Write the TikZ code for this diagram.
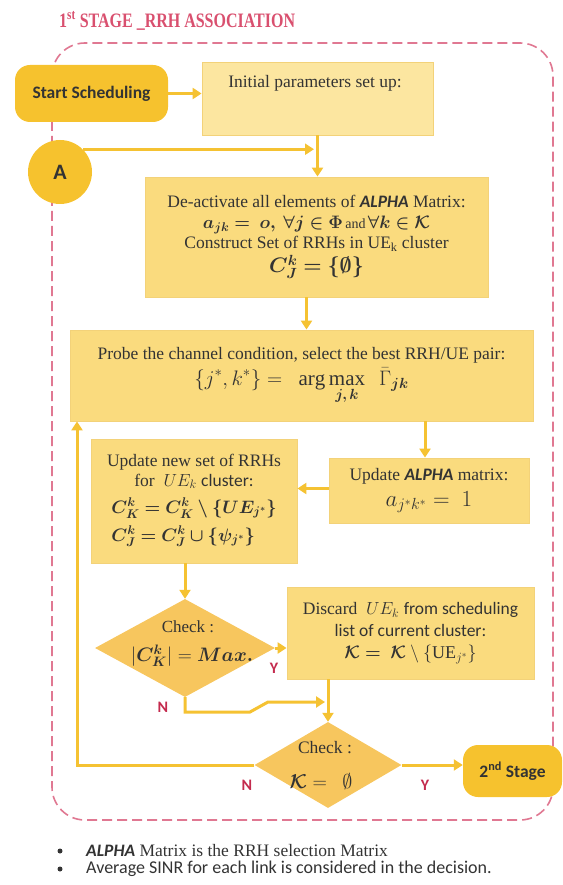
\RequirePackage{fix-cm}
\documentclass[tikz,border=0pt]{standalone}
\usepackage{amsmath,amssymb,bm}
\usepackage{fontspec}
\setmainfont{Liberation Serif}
\newfontfamily\calfont{Carlito}
\newfontfamily\titlefont[FakeStretch=0.78]{Liberation Serif}
\usetikzlibrary{shapes.geometric,arrows.meta}
\definecolor{gold}{HTML}{F5C232}
\definecolor{startfill}{HTML}{F6C22E}
\definecolor{lightbox}{HTML}{FCE6A0}
\definecolor{midbox}{HTML}{FADB7E}
\definecolor{diafill}{HTML}{F7C65E}
\definecolor{framecol}{HTML}{E07892}
\definecolor{titlecol}{HTML}{D9506F}
\definecolor{txt}{HTML}{333333}
\definecolor{yncol}{HTML}{C42B4E}
\definecolor{boxedge}{HTML}{F3D279}
\newcommand{\alphaw}{{\calfont\bfseries\itshape ALPHA}}
\begin{document}
\begin{tikzpicture}[x=1pt,y=-1pt,
  box/.style={draw=boxedge, line width=0.8pt, fill=midbox, inner sep=2pt, align=center, text=txt, font=\fontsize{17.5}{21}\selectfont},
  arr/.style={draw=gold, line width=3pt, -{Triangle[length=9pt,width=11pt]}},
  dia/.style={diamond, fill=diafill, draw=none, inner sep=0pt},
  lbl/.style={text=txt, inner sep=0pt, align=center, font=\fontsize{17.5}{21}\selectfont},
  ynl/.style={text=yncol, inner sep=0pt, font=\calfont\bfseries\fontsize{16}{16}\selectfont},
  term/.style={fill=startfill, rounded corners=15pt, inner sep=0pt, text=txt, font=\calfont\bfseries\fontsize{17.5}{17.5}\selectfont}]
\useasboundingbox (0,0) rectangle (562,885);
% title
\node[anchor=west, inner sep=0pt, text=titlecol, font=\titlefont\bfseries\fontsize{20.5}{20.5}\selectfont] (title) at (59,21) {1\textsuperscript{st} STAGE \_RRH ASSOCIATION};
% dashed frame
\draw[framecol, line width=1.6pt, dash pattern=on 10pt off 5pt, rounded corners=33pt] (52,43) rectangle (553,820);
% nodes
\node[term, minimum width=153pt, minimum height=57pt] (start) at (91.5,93.5) {Start Scheduling};
\node[box, fill=lightbox, minimum width=231pt, minimum height=73pt] (init) at (317.5,98.5) {};
\node[lbl] (initlbl) at (315,83) {Initial parameters set up:};
\node[circle, fill=startfill, minimum size=64pt, inner sep=0pt, text=txt, font=\calfont\bfseries\fontsize{22}{22}\selectfont] (A) at (60,172) {A};
\node[box, minimum width=343pt, minimum height=120pt] (deact) at (316.5,237) {De-activate all elements of \alphaw{} Matrix:\\[0pt]
 {\fontsize{18}{20}\selectfont$\bm{a_{jk} =\ o,\ \forall j \in \Phi}$}{\fontsize{14}{15}\selectfont\,and\,}{\fontsize{18}{20}\selectfont$\bm{\forall k \in \mathcal{K}}$}\\[-1pt]
 Construct Set of RRHs in UE$_{\mathrm{k}}$ cluster\\[3pt]
 {\fontsize{21}{22}\selectfont$\bm{C_J^k = \{\emptyset\}}$}};
\node[box, minimum width=463pt, minimum height=91pt] (probe) at (301.5,375.5) {Probe the channel condition, select the best RRH/UE pair:\\[5pt]
 {\fontsize{21}{22}\selectfont$\displaystyle \{j^{*}, k^{*}\} =\ \ \arg\max\limits_{\bm{j,\,k}}\ \ \bar{\Gamma}_{\bm{jk}}$}};
\node[box, minimum width=200pt, minimum height=65pt] (ualpha) at (429,490.5) {Update \alphaw{} matrix:\\[5pt]
 {\fontsize{23}{24}\selectfont$a_{j^{*}k^{*}} =\ 1$}};
\node[box, minimum width=206pt, minimum height=124pt] (unew) at (194,501) {Update new set of RRHs\\[-1pt]
 for \ $UE_k$ {\calfont cluster:}\\[7pt]
 {\fontsize{18}{23}\selectfont$\begin{array}{@{}l@{}}\bm{C_K^k = C_K^k \setminus \{UE_{j^*}\}}\\[5pt] \bm{C_J^k = C_J^k \cup \{\psi_{j^*}\}}\end{array}$}};
\node[dia, minimum width=180pt, minimum height=98pt] (dia1) at (185,648) {};
\node[lbl, font=\fontsize{17}{17}\selectfont] (dia1a) at (188,627) {Check :};
\node[lbl] (dia1b) at (192,656) {\fontsize{19.5}{19.5}\selectfont$|\bm{C_K^k}| = \bm{Max.}$};
\node[box, minimum width=247pt, minimum height=92pt] (discard) at (410.5,633) {Discard \ $UE_k$ {\calfont from scheduling}\\[1pt]
 {\calfont list of current cluster:}\\[1pt]
 {\fontsize{18}{20}\selectfont$\bm{\mathcal{K} =\ \mathcal{K}} \setminus \{\mathrm{UE}_{j^*}\}$}};
\node[dia, minimum width=147pt, minimum height=86pt] (dia2) at (328,765) {};
\node[lbl, font=\fontsize{17.5}{17.5}\selectfont] (dia2a) at (325,748) {Check :};
\node[lbl] (dia2b) at (321,782) {\fontsize{20}{20}\selectfont$\bm{\mathcal{K}} =\ \ \emptyset$};
\node[term, fill=startfill, minimum width=99pt, minimum height=52pt] (second) at (512.5,771) {2\textsuperscript{nd} Stage};
% Y / N labels
\node[ynl] (y1) at (274,668) {Y};
\node[ynl] (n1) at (163,707) {N};
\node[ynl] (n2) at (247,785) {N};
\node[ynl] (y2) at (425,785) {Y};
% connectors
\coordinate (ja) at (314,148);
\coordinate (nb1) at (185,712);
\coordinate (nb2) at (250,712);
\coordinate (nb3) at (268,702);
\coordinate (nb4) at (325,702);
\coordinate (lp) at (77,765);
\draw[arr] (start.east) -- (start.east -| init.west);
\draw[arr] (A.45) -- (A.45 -| ja);
\draw[arr] (init.south) -- (init.south |- deact.north);
\draw[arr] ([xshift=-10pt]deact.south) -- ([xshift=-10pt]deact.south |- probe.north);
\draw[arr] ([xshift=-4pt]ualpha.north |- probe.south) -- ([xshift=-4pt]ualpha.north);
\draw[arr] ([yshift=2pt]ualpha.west) -- ([yshift=2pt]ualpha.west -| unew.east);
\draw[arr] (dia1.north |- unew.south) -- (dia1.north);
\draw[arr] (dia1.east) -- (dia1.east -| discard.west);
\draw[arr] (dia2.north |- discard.south) -- (dia2.north);
\draw[arr] (dia1.south) -- (nb1) -- (nb2) -- (nb3) -- (nb4);
\draw[arr] (dia2.west) -- (lp) -- (lp |- probe.south);
\draw[arr] (dia2.east) -- (dia2.east -| second.west);
% notes
\node[circle, fill=txt, inner sep=0pt, minimum size=5pt] (b1) at (60,851) {};
\node[circle, fill=txt, inner sep=0pt, minimum size=5pt] (b2) at (60,869) {};
\node[anchor=west, inner sep=0pt, text=txt, font=\fontsize{17.5}{17.5}\selectfont] (note1) at (86,851) {\alphaw{} Matrix is the RRH selection Matrix};
\node[anchor=west, inner sep=0pt, text=txt, font=\calfont\fontsize{18}{18}\selectfont] (note2) at (86,869) {Average SINR for each link is considered in the decision.};
\end{tikzpicture}
\end{document}
